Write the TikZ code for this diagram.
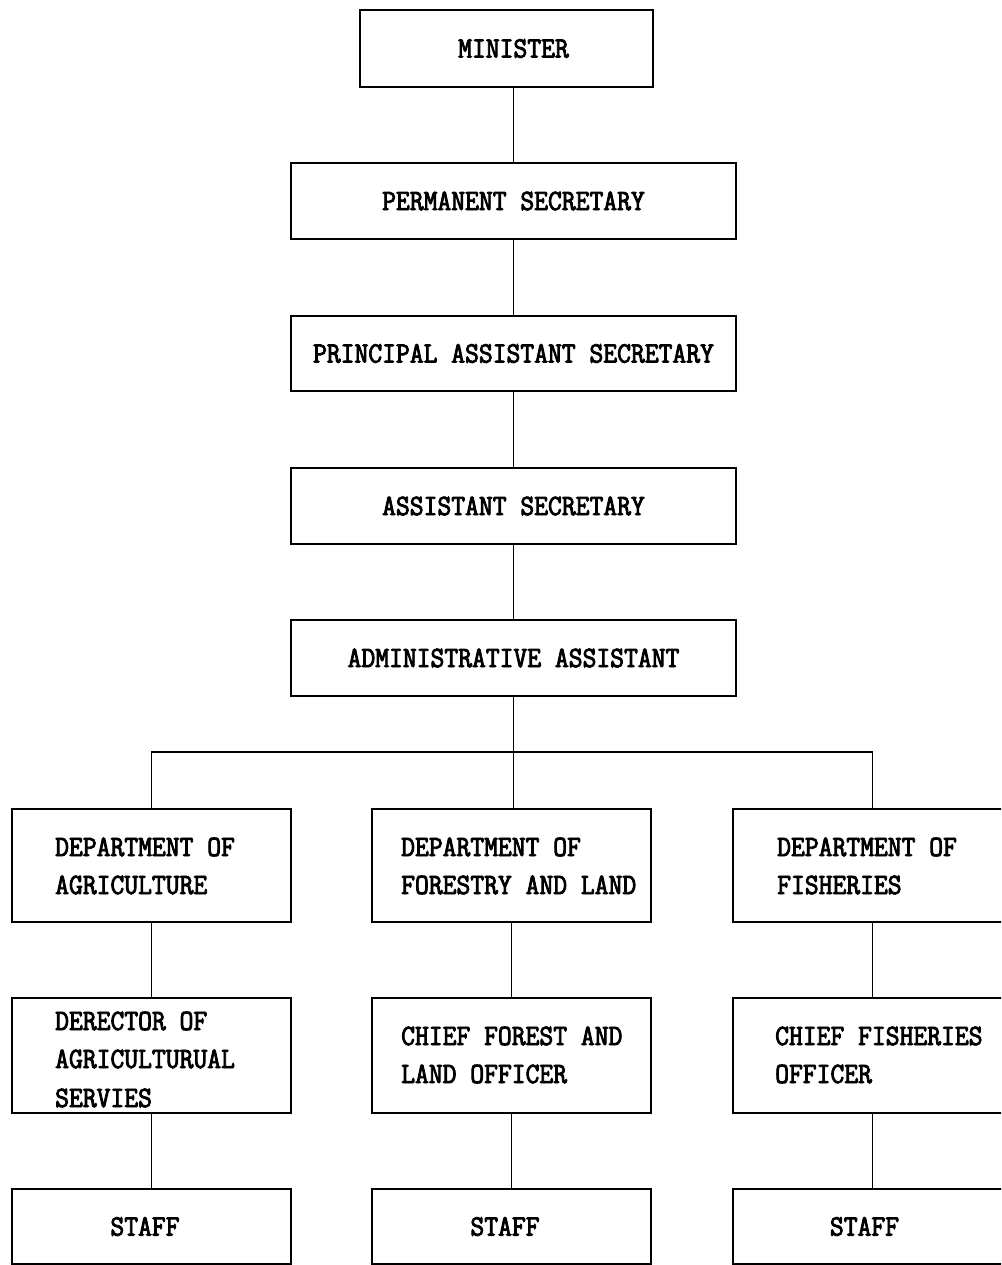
\documentclass[tikz,border=0pt]{standalone}
\usepackage{fontspec}
\newfontfamily\chartfont[FakeStretch=0.91,FakeBold=3]{Latin Modern Mono}
\begin{document}
\begin{tikzpicture}[x=1pt,y=1pt,
  box/.style={draw=black,line width=1.7pt,inner sep=0pt,fill=none},
  lbl/.style={inner sep=0pt,anchor=base west,font=\chartfont\fontsize{29.5}{38}\selectfont},
  ctr/.style={font=\chartfont\fontsize{29.5}{38}\selectfont},
  conn/.style={line width=1.8pt}]
\clip (0,0) rectangle (1001,-1265);
\fill[white] (0,0) rectangle (1001,-1265);
% top chain
\node[box,ctr,minimum width=293pt,minimum height=77pt] (min) at (506.5,-48.5) {\hspace*{14pt}MINISTER};
\node[box,ctr,minimum width=445pt,minimum height=76pt] (perm) at (513.5,-201) {PERMANENT SECRETARY};
\node[box,ctr,minimum width=445pt,minimum height=75pt] (pas) at (513.5,-353.5) {PRINCIPAL ASSISTANT SECRETARY};
\node[box,ctr,minimum width=445pt,minimum height=76pt] (as) at (513.5,-506) {ASSISTANT SECRETARY};
\node[box,ctr,minimum width=445pt,minimum height=76pt] (aa) at (513.5,-658) {ADMINISTRATIVE ASSISTANT};
% departments
\node[box,minimum width=279pt,minimum height=113pt] (dA) at (151.5,-865.5) {};
\node[box,minimum width=279pt,minimum height=113pt] (dB) at (511.5,-865.5) {};
\node[box,minimum width=279pt,minimum height=113pt] (dC) at (872.5,-865.5) {};
% directors
\node[box,minimum width=279pt,minimum height=115pt] (rA) at (151.5,-1055.5) {};
\node[box,minimum width=279pt,minimum height=115pt] (rB) at (511.5,-1055.5) {};
\node[box,minimum width=279pt,minimum height=115pt] (rC) at (872.5,-1055.5) {};
% staff
\node[box,ctr,minimum width=279pt,minimum height=75pt] (sA) at (151.5,-1226.5) {STAFF\hspace*{13pt}};
\node[box,ctr,minimum width=279pt,minimum height=75pt] (sB) at (511.5,-1226.5) {STAFF\hspace*{13pt}};
\node[box,ctr,minimum width=279pt,minimum height=75pt] (sC) at (872.5,-1226.5) {STAFF\hspace*{16pt}};
% texts
\node[lbl] (tA1) at (55,-856) {DEPARTMENT OF};
\node[lbl] (tA2) at (55,-894) {AGRICULTURE};
\node[lbl] (tB1) at (401,-856) {DEPARTMENT OF};
\node[lbl] (tB2) at (401,-894) {FORESTRY AND LAND};
\node[lbl] (tC1) at (777,-856) {DEPARTMENT OF};
\node[lbl] (tC2) at (777,-894) {FISHERIES};
\node[lbl] (uA1) at (55,-1030) {DERECTOR OF};
\node[lbl] (uA2) at (55,-1068) {AGRICULTURUAL};
\node[lbl] (uA3) at (55,-1107) {SERVIES};
\node[lbl] (uB1) at (401,-1045) {CHIEF FOREST AND};
\node[lbl] (uB2) at (401,-1083) {LAND OFFICER};
\node[lbl] (uC1) at (775,-1045) {CHIEF FISHERIES};
\node[lbl] (uC2) at (775,-1083) {OFFICER};
% connectors
\coordinate (bus) at (0,-752);
\draw[conn] (perm.north) -- (perm.north |- min.south);
\draw[conn] (perm.south) -- (pas.north);
\draw[conn] (pas.south) -- (as.north);
\draw[conn] (as.south) -- (aa.north);
\draw[conn] (aa.south) -- (aa.south |- dB.north);
\draw[conn] (dA.north) -- (dA.north |- bus) -- (dC.north |- bus) -- (dC.north);
\draw[conn] (dA.south) -- (rA.north);
\draw[conn] (dB.south) -- (rB.north);
\draw[conn] (dC.south) -- (rC.north);
\draw[conn] (rA.south) -- (sA.north);
\draw[conn] (rB.south) -- (sB.north);
\draw[conn] (rC.south) -- (sC.north);
\end{tikzpicture}
\end{document}
